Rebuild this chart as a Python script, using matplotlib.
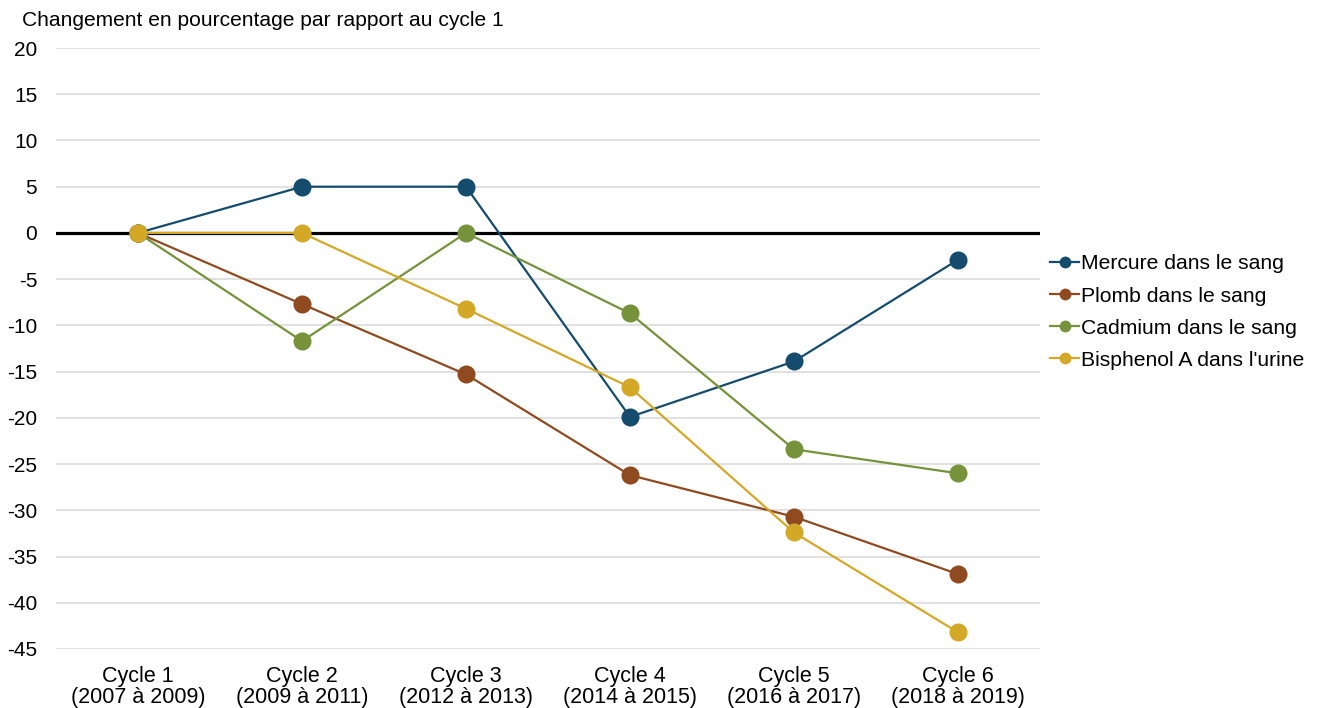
import matplotlib
matplotlib.use("Agg")
import matplotlib.pyplot as plt
from matplotlib.lines import Line2D

plt.rcParams['font.family'] = ['Liberation Sans', 'DejaVu Sans']

categories = ["Cycle 1\n(2007 à 2009)", "Cycle 2\n(2009 à 2011)", "Cycle 3\n(2012 à 2013)",
              "Cycle 4\n(2014 à 2015)", "Cycle 5\n(2016 à 2017)", "Cycle 6\n(2018 à 2019)"]
mercure = [0, 5, 5, -19.9, -13.9, -2.9]
plomb = [0, -7.7, -15.3, -26.2, -30.7, -36.9]
cadmium = [0, -11.7, 0, -8.7, -23.4, -26.0]
bisphenol = [0, 0, -8.2, -16.7, -32.4, -43.2]
series_names = ["Mercure dans le sang", "Plomb dans le sang",
                "Cadmium dans le sang", "Bisphenol A dans l'urine"]
colors = ["#154C6E", "#8F4A1F", "#76923B", "#D4A827"]
y_ticks = list(range(-45, 21, 5))

fig = plt.figure(figsize=(13.18, 7.08), dpi=100)
ax = fig.add_axes([56 / 1318, 1 - 649 / 708, (1040 - 56) / 1318, (649 - 48) / 708])

x = list(range(len(categories)))
for vals, name, c in zip([mercure, plomb, cadmium, bisphenol], series_names, colors):
    ax.plot(x, vals, color=c, lw=1.6, marker='o', markersize=13,
            markeredgewidth=0, label=name, zorder=3)

ax.set_xlim(-0.5, len(categories) - 0.5)
ax.set_ylim(-45, 20)
ax.set_yticks(y_ticks)
ax.set_yticklabels([str(v) for v in y_ticks], fontsize=15)
ax.set_xticks(x)
ax.set_xticklabels(categories, linespacing=1.0, fontsize=15.5)
ax.tick_params(axis='both', length=0, colors='black')
ax.tick_params(axis='y', pad=13.5)
ax.tick_params(axis='x', pad=12.5)

ax.grid(axis='y', color='#D9D9D9', lw=1.1, zorder=0)
ax.axhline(0, color='black', lw=2.3, zorder=2)
for s in ax.spines.values():
    s.set_visible(False)

handles = [Line2D([0], [0], color=c, lw=1.6, marker='o', markersize=8.5, markeredgewidth=0)
           for c in colors]
fig.legend(handles, series_names, loc='upper left',
           bbox_to_anchor=(1042 / 1318, 1 - 246 / 708), frameon=False,
           fontsize=15.2, handlelength=1.35, handletextpad=0.1, labelspacing=0.62,
           borderaxespad=0)

fig.text(22 / 1318, 1 - 21 / 708, "Changement en pourcentage par rapport au cycle 1",
         fontsize=15.1, va='center', ha='left')

fig.savefig("out.png", dpi=100)
